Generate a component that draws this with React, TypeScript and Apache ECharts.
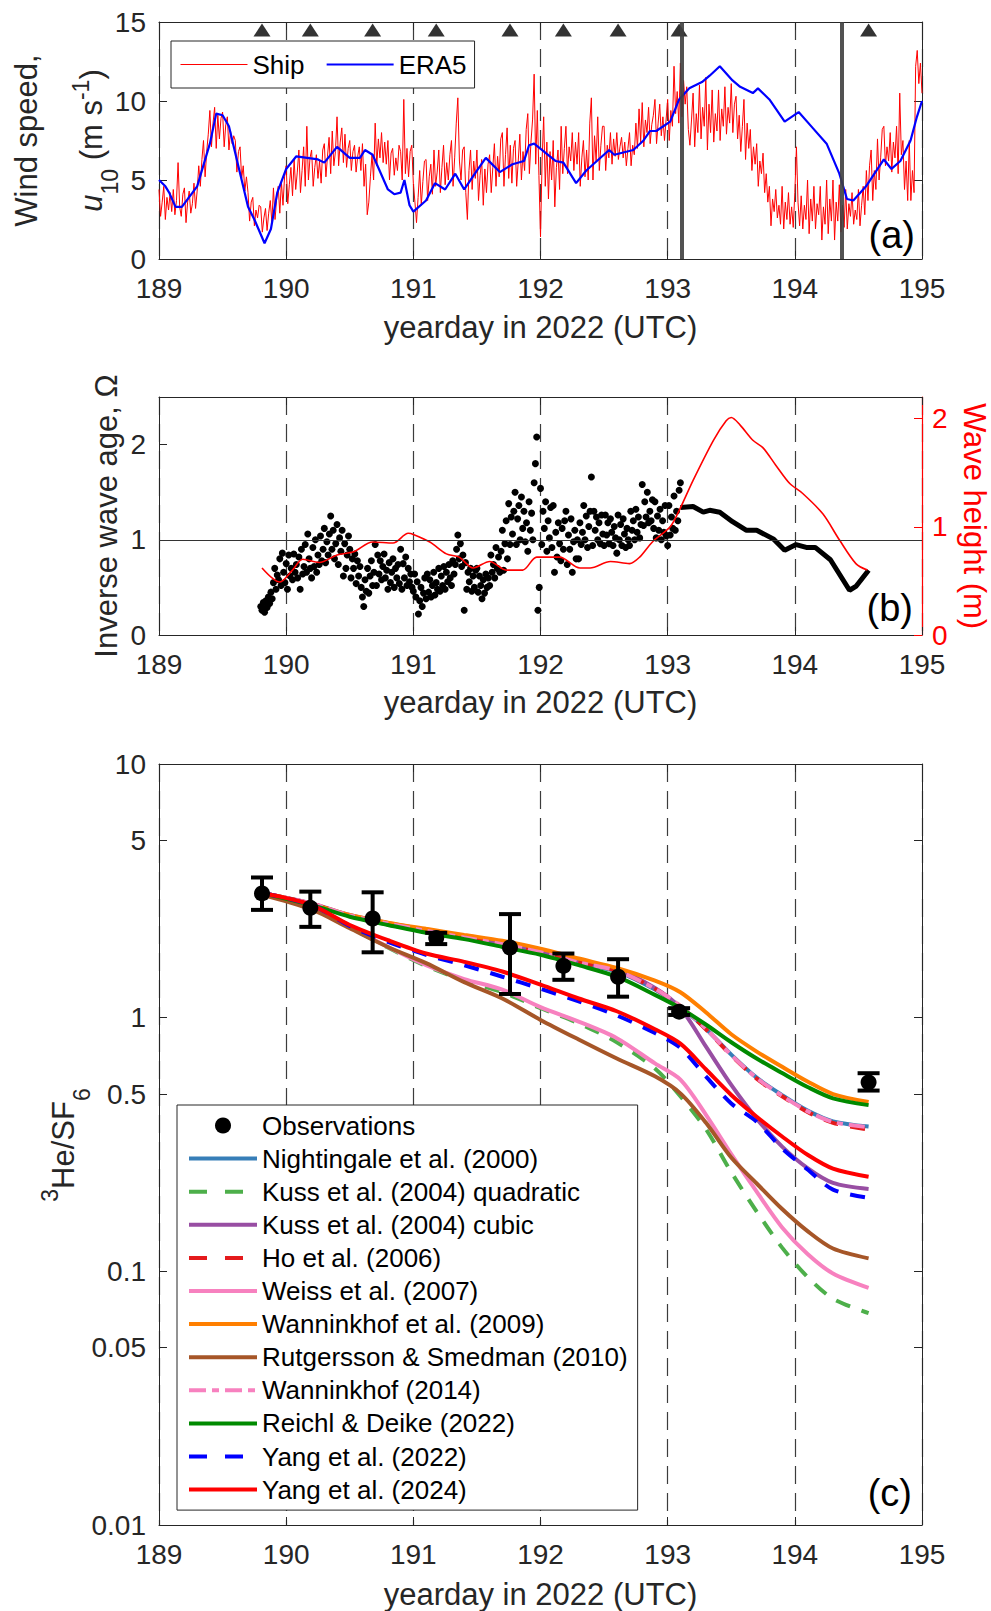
import React, { useEffect, useRef } from "react";
import * as echarts from "echarts";

const FONT = "Liberation Sans";
const AXIS = "#262626";

// ---------- Panel (a): wind speed ----------
const shipT0 = 189.0;
const shipDt = 0.0125;
const shipWind = [
  4.4, 2.7, 3.6, 4.6, 2.5, 3.9, 3.1, 4.2,
  3.0, 4.4, 2.8, 3.7, 6.1, 3.3, 2.7, 4.1,
  4.5, 2.3, 3.6, 4.3, 2.9, 3.5, 4.8, 3.2,
  4.3, 5.9, 4.6, 6.3, 7.5, 5.2, 6.8, 7.9,
  9.4, 7.1, 8.6, 9.6, 7.0, 9.1, 7.6, 8.9,
  9.3, 7.1, 8.5, 9.0, 6.9, 8.1, 7.3, 7.8,
  7.5, 5.5, 6.8, 7.1, 5.1, 5.9, 4.3, 5.2,
  4.2, 2.4, 3.6, 3.9, 2.1, 3.1, 2.6, 3.4,
  3.3, 1.7, 2.6, 3.2, 1.8, 2.9, 3.7, 2.3,
  4.5, 2.5, 3.8, 4.6, 2.9, 4.9, 3.4, 5.2,
  5.9, 3.5, 4.7, 5.8, 4.0, 6.3, 4.4, 5.5,
  6.9, 4.2, 5.6, 7.1, 4.6, 8.4, 5.0, 6.4,
  6.9, 4.6, 5.8, 6.6, 5.1, 6.2, 4.8, 6.9,
  7.3, 5.2, 6.5, 7.7, 5.4, 8.1, 5.9, 6.8,
  9.0, 5.9, 7.4, 8.3, 6.1, 7.9, 5.8, 7.0,
  7.5, 5.6, 6.8, 7.2, 5.5, 6.5, 7.1, 5.6,
  7.3, 4.6, 6.0, 2.8, 3.6, 5.2, 6.6, 5.0,
  8.6, 5.9, 7.6, 6.4, 8.0, 6.1, 7.4, 6.0,
  7.5, 5.0, 6.7, 7.0, 5.3, 6.4, 5.6, 7.2,
  6.8, 5.0, 10.1, 5.4, 7.0, 5.2, 6.8, 7.2,
  4.8, 3.6, 2.3, 3.9, 5.6, 3.4, 4.9, 6.2,
  6.3, 3.7, 5.2, 6.0, 4.1, 6.9, 4.6, 5.5,
  6.9, 4.2, 5.8, 7.2, 4.7, 6.1, 5.0, 6.6,
  7.5, 4.6, 6.4, 8.6, 10.2, 6.2, 5.0, 6.9,
  7.1, 4.2, 2.5, 5.6, 6.9, 4.4, 6.2, 5.1,
  6.9, 3.7, 5.3, 6.3, 3.4, 5.7, 4.2, 6.0,
  6.6, 4.2, 5.8, 7.3, 4.6, 6.5, 5.2, 7.6,
  8.0, 4.6, 6.6, 8.3, 5.1, 7.2, 4.8, 7.0,
  7.5, 4.6, 6.2, 7.9, 5.0, 6.8, 5.6, 8.2,
  9.2, 5.4, 7.4, 8.8, 11.7, 6.0, 9.4, 5.3,
  1.4, 6.2, 9.0, 4.6, 7.4, 3.8, 6.8, 5.0,
  7.5, 3.3, 5.8, 6.9, 4.4, 8.4, 5.4, 7.0,
  8.4, 5.4, 7.1, 6.2, 8.0, 5.6, 7.4, 6.0,
  8.0, 4.6, 6.4, 7.5, 5.2, 6.9, 5.0, 8.6,
  10.2, 5.0, 7.8, 6.2, 9.0, 5.6, 7.2, 8.4,
  8.4, 5.6, 7.2, 6.4, 8.0, 6.0, 7.6, 6.5,
  8.0, 6.3, 7.1, 7.7, 6.4, 7.4, 5.9, 7.0,
  8.0, 5.9, 7.2, 6.6, 8.6, 7.0, 9.5, 7.4,
  9.9, 7.1, 8.8, 8.0, 9.6, 7.3, 8.5, 9.1,
  10.1, 7.3, 8.6, 9.8, 7.8, 9.0, 7.5, 8.8,
  10.1, 7.5, 9.4, 8.4, 12.2, 9.2, 10.6, 8.6,
  12.4, 9.0, 11.3, 9.8, 10.9, 8.2, 7.2, 8.8,
  10.5, 7.1, 9.2, 8.0, 11.0, 7.6, 9.6, 8.4,
  11.5, 6.9, 9.8, 8.0, 10.7, 7.4, 9.2, 8.1,
  10.7, 7.5, 9.5, 8.4, 10.9, 7.9, 9.6, 8.6,
  11.1, 8.0, 9.8, 10.3, 7.6, 9.1, 6.8, 8.4,
  10.1, 6.3, 8.6, 7.0, 8.2, 5.6, 7.1, 6.0,
  7.3, 4.6, 6.2, 5.4, 6.7, 4.2, 5.4, 3.6,
  4.6, 2.1, 3.8, 3.0, 4.4, 2.6, 3.4, 2.2,
  4.6, 1.9, 3.6, 2.5, 4.2, 2.2, 3.3, 2.0,
  4.2, 7.1, 3.6, 2.1, 4.0, 1.9, 3.4, 2.5,
  5.0, 1.6, 3.8, 2.4, 4.6, 1.9, 3.5, 2.8,
  4.6, 1.2, 3.3, 2.2, 5.0, 1.6, 3.8, 2.4,
  5.0, 1.2, 3.6, 2.4, 4.7, 1.7, 3.4, 2.0,
  4.4, 1.9, 3.5, 2.7, 4.2, 2.2, 3.1, 2.5,
  4.4, 2.1, 3.4, 4.6, 2.8, 5.6, 3.7, 5.9,
  6.9, 3.7, 5.6, 4.4, 7.6, 5.0, 6.4, 8.2,
  8.4, 5.9, 7.1, 6.2, 8.0, 5.5, 7.4, 6.4,
  8.4, 5.4, 10.5, 6.6, 7.5, 4.4, 6.2, 3.7,
  7.5, 3.7, 5.6, 4.2, 12.2, 13.2, 11.1, 12.4,
  10.5,
];
const era5Wind: [number, number][] = [
  [189.0, 5.0], [189.05, 4.6], [189.08, 4.2], [189.13, 3.3], [189.18, 3.3], [189.3, 4.6],
  [189.4, 7.3], [189.45, 9.2], [189.5, 9.1], [189.55, 8.4], [189.6, 6.7], [189.7, 3.3],
  [189.75, 2.5], [189.83, 1.0], [189.88, 1.9], [189.93, 4.2], [190.0, 5.7], [190.08, 6.5],
  [190.25, 6.3], [190.3, 6.1], [190.4, 7.1], [190.5, 6.4], [190.58, 6.4], [190.62, 6.9],
  [190.68, 6.6], [190.8, 4.4], [190.85, 4.1], [190.9, 4.2], [190.93, 5.0], [190.97, 3.4],
  [191.0, 3.0], [191.1, 3.7], [191.17, 4.8], [191.25, 4.4], [191.33, 5.4], [191.4, 4.4],
  [191.5, 5.6], [191.57, 6.4], [191.68, 5.5], [191.78, 6.0], [191.87, 6.2], [191.91, 7.2],
  [191.95, 7.3], [192.12, 6.2], [192.18, 6.1], [192.28, 4.8], [192.36, 5.6], [192.54, 6.9],
  [192.58, 6.6], [192.73, 6.9], [192.81, 7.5], [192.86, 8.1], [192.91, 8.1], [193.02, 8.7],
  [193.09, 10.1], [193.17, 10.8], [193.27, 11.2], [193.33, 11.6], [193.41, 12.2], [193.51, 11.3],
  [193.57, 10.9], [193.67, 10.5], [193.71, 10.8], [193.8, 10.1], [193.92, 8.7], [194.03, 9.3],
  [194.14, 8.3], [194.25, 7.3], [194.35, 5.4], [194.41, 3.8], [194.46, 3.7], [194.56, 4.6],
  [194.7, 6.3], [194.76, 5.7], [194.83, 6.2], [194.91, 7.5], [194.96, 9.0], [195.0, 10.0],
];
const sampleDays = [189.81, 190.19, 190.68, 191.18, 191.76, 192.18, 192.61, 193.09, 194.58];
const triangleLevel = 14.5;
const periodBounds = [193.11, 194.37];

// ---------- Panel (b): inverse wave age and wave height ----------
const omegaT0 = 189.8;
const omegaDt = 0.01;
const omegaDots = [
  0.30, 0.26, 0.34, 0.24, 0.36, 0.29, 0.40, 0.33, 0.45, 0.38,
  0.55, 0.70, 0.48, 0.63, 0.58, 0.80, 0.52, 0.86, 0.66, 0.55,
  0.75, 0.48, 0.84, 0.62, 0.70, 0.58, 0.85, 0.66, 0.74, 0.60,
  0.82, 0.48, 0.90, 0.64, 0.72, 0.95, 0.66, 1.06, 0.80, 0.70,
  0.60, 0.92, 0.72, 1.00, 0.66, 0.84, 0.74, 1.04, 0.78, 0.90,
  1.12, 0.76, 0.98, 0.84, 1.06, 1.25, 0.90, 1.10, 0.80, 0.96,
  1.16, 0.74, 1.02, 0.88, 1.10, 0.62, 0.96, 0.70, 0.84, 1.04,
  0.90, 0.60, 0.80, 0.70, 0.85, 0.54, 0.78, 0.62, 0.72, 0.50,
  0.40, 0.30, 0.58, 0.46, 0.70, 0.44, 0.62, 0.78, 0.52, 0.66,
  0.95, 0.52, 0.84, 0.64, 0.78, 0.58, 0.72, 0.85, 0.60, 0.68,
  0.48, 0.76, 0.55, 0.66, 0.80, 0.50, 0.70, 0.60, 0.74, 0.54,
  0.90, 0.48, 0.75, 0.60, 0.82, 0.52, 0.70, 0.56, 0.64, 0.50,
  0.46, 0.64, 0.40, 0.56, 0.22, 0.36, 0.50, 0.30, 0.44, 0.60,
  0.38, 0.64, 0.45, 0.58, 0.40, 0.52, 0.66, 0.42, 0.55, 0.48,
  0.70, 0.46, 0.62, 0.52, 0.72, 0.48, 0.66, 0.56, 0.74, 0.60,
  0.52, 0.78, 0.64, 0.74, 0.90, 1.05, 0.80, 0.96, 0.72, 0.84,
  0.26, 0.76, 0.48, 0.66, 0.56, 0.70, 0.46, 0.62, 0.50, 0.68,
  0.70, 0.45, 0.62, 0.52, 0.38, 0.58, 0.44, 0.64, 0.50, 0.60,
  0.52, 0.84, 0.66, 0.74, 0.60, 0.92, 0.70, 0.82, 0.66, 0.88,
  1.10, 0.68, 0.96, 1.20, 0.80, 1.38, 0.95, 1.24, 1.06, 1.30,
  1.50, 0.95, 1.22, 1.36, 1.00, 1.45, 1.12, 1.30, 0.98, 1.18,
  0.88, 1.40, 1.10, 1.28, 1.00, 1.60, 1.80, 2.08, 0.26, 0.50,
  1.54, 0.95, 1.30, 1.12, 1.40, 0.88, 1.20, 1.02, 1.34, 0.92,
  1.36, 0.66, 1.08, 0.82, 1.18, 0.96, 0.78, 1.12, 0.90, 1.20,
  1.30, 0.74, 1.05, 0.90, 1.22, 0.66, 0.98, 1.10, 0.80, 1.00,
  0.80, 1.18, 0.95, 1.08, 1.36, 1.00, 1.25, 0.92, 1.14, 1.30,
  1.66, 0.94, 1.30, 1.10, 1.24, 1.00, 1.18, 0.96, 1.26, 1.06,
  0.94, 1.26, 1.05, 1.18, 0.96, 1.22, 1.08, 0.94, 1.14, 1.02,
  0.86, 1.26, 1.00, 1.16, 0.94, 1.22, 1.06, 0.92, 1.12, 1.00,
  0.94, 1.30, 1.10, 1.20, 1.00, 1.32, 1.08, 1.24, 1.02, 1.16,
  1.58, 1.15, 1.40, 1.24, 1.50, 1.18, 1.30, 1.20, 1.42, 1.12,
  1.40, 1.02, 1.25, 1.10, 1.32, 1.00, 1.20, 1.08, 1.36, 1.04,
  0.94, 1.36, 1.05, 1.24, 1.12, 1.46, 1.10, 1.30, 1.20, 1.52,
  1.60,
];
const omegaLine: [number, number][] = [
  [193.1, 1.34], [193.2, 1.35], [193.28, 1.29], [193.33, 1.31], [193.41, 1.29], [193.51, 1.19],
  [193.62, 1.1], [193.7, 1.1], [193.83, 1.01], [193.92, 0.89], [194.01, 0.95], [194.09, 0.92],
  [194.16, 0.92], [194.28, 0.79], [194.43, 0.47], [194.48, 0.51], [194.58, 0.68],
];
const waveHeight: [number, number][] = [
  [189.81, 0.62], [189.95, 0.49], [190.05, 0.6], [190.13, 0.7], [190.26, 0.67], [190.4, 0.74],
  [190.53, 0.77], [190.68, 0.86], [190.84, 0.85], [190.96, 0.94], [191.0, 0.93], [191.13, 0.86],
  [191.26, 0.75], [191.36, 0.72], [191.47, 0.62], [191.6, 0.68], [191.73, 0.6], [191.86, 0.6],
  [191.97, 0.72], [192.15, 0.72], [192.31, 0.62], [192.39, 0.62], [192.55, 0.68], [192.7, 0.66],
  [192.78, 0.72], [192.88, 0.86], [193.02, 1.0], [193.09, 1.15], [193.2, 1.43], [193.36, 1.8],
  [193.46, 1.98], [193.5, 2.01], [193.57, 1.94], [193.67, 1.8], [193.75, 1.73], [193.85, 1.57],
  [193.96, 1.4], [194.06, 1.31], [194.22, 1.12], [194.35, 0.88], [194.48, 0.66], [194.57, 0.6],
];

// ---------- Panel (c): 3He/SF6 ratio ----------
const modelDays = [189.81, 190.2, 190.5, 190.8, 191.1, 191.4, 191.7, 192.0, 192.3, 192.6,
  192.9, 193.1, 193.3, 193.5, 193.7, 193.9, 194.1, 194.3, 194.58];
const nightingale2000 = [3.1, 2.81, 2.52, 2.33, 2.19, 2.06, 1.94, 1.8, 1.64, 1.52, 1.29, 1.1, 0.905, 0.715, 0.58, 0.495, 0.43, 0.39, 0.372];
const kussQuad2004 = [3.1, 2.74, 2.27, 1.89, 1.6, 1.4, 1.26, 1.09, 0.95, 0.8, 0.63, 0.49, 0.364, 0.246, 0.172, 0.124, 0.095, 0.078, 0.0684];
const kussCubic2004 = [3.1, 2.82, 2.54, 2.36, 2.22, 2.09, 1.97, 1.83, 1.67, 1.55, 1.31, 1.09, 0.77, 0.543, 0.4, 0.31, 0.255, 0.223, 0.211];
const ho2006 = [3.1, 2.81, 2.52, 2.34, 2.2, 2.07, 1.95, 1.81, 1.65, 1.53, 1.3, 1.11, 0.9, 0.71, 0.575, 0.49, 0.425, 0.385, 0.362];
const weiss2007 = [3.1, 2.74, 2.28, 1.9, 1.61, 1.42, 1.29, 1.1, 0.965, 0.83, 0.66, 0.57, 0.415, 0.29, 0.206, 0.149, 0.117, 0.098, 0.086];
const wanninkhof2009 = [3.1, 2.81, 2.54, 2.37, 2.24, 2.12, 2.01, 1.87, 1.71, 1.57, 1.4, 1.26, 1.05, 0.86, 0.735, 0.64, 0.56, 0.5, 0.465];
const rutgersson2010 = [3.05, 2.67, 2.25, 1.9, 1.64, 1.38, 1.19, 0.98, 0.82, 0.69, 0.587, 0.503, 0.386, 0.281, 0.222, 0.176, 0.144, 0.123, 0.1125];
const wanninkhof2014 = [3.1, 2.82, 2.53, 2.35, 2.2, 2.07, 1.95, 1.81, 1.65, 1.53, 1.3, 1.11, 0.905, 0.712, 0.578, 0.492, 0.428, 0.388, 0.37];
const reichlDeike2022 = [3.1, 2.78, 2.5, 2.32, 2.16, 2.04, 1.9, 1.77, 1.61, 1.45, 1.23, 1.09, 0.94, 0.8, 0.69, 0.605, 0.533, 0.481, 0.452];
const yang2022 = [3.1, 2.78, 2.3, 1.99, 1.77, 1.61, 1.45, 1.3, 1.16, 1.02, 0.87, 0.76, 0.587, 0.459, 0.389, 0.305, 0.252, 0.21, 0.195];
const yang2024 = [3.1, 2.78, 2.32, 2.02, 1.79, 1.66, 1.52, 1.35, 1.19, 1.06, 0.9, 0.79, 0.626, 0.496, 0.407, 0.34, 0.288, 0.254, 0.236];
const obsRatio = [3.09, 2.71, 2.46, 2.06, 1.89, 1.6, 1.45, 1.056, 0.556];
const obsLow = [2.66, 2.28, 1.81, 1.95, 1.24, 1.41, 1.21, 1.025, 0.516];
const obsHigh = [3.57, 3.14, 3.12, 2.16, 2.56, 1.79, 1.7, 1.09, 0.604];
const yTicksC = [0.01, 0.05, 0.1, 0.5, 1, 5, 10];

const models = [
  { name: "Nightingale et al. (2000)", values: nightingale2000, color: "#377eb8", type: "solid" as any, legendType: "solid" as any },
  { name: "Kuss et al. (2004) quadratic", values: kussQuad2004, color: "#4daf4a", type: [15, 12], legendType: [18, 18] },
  { name: "Kuss et al. (2004) cubic", values: kussCubic2004, color: "#984ea3", type: "solid", legendType: "solid" },
  { name: "Ho et al. (2006)", values: ho2006, color: "#e41a1c", type: [15, 12], legendType: [18, 18] },
  { name: "Weiss et al. (2007)", values: weiss2007, color: "#f781bf", type: "solid", legendType: "solid" },
  { name: "Wanninkhof et al. (2009)", values: wanninkhof2009, color: "#ff7f00", type: "solid", legendType: "solid" },
  { name: "Rutgersson & Smedman (2010)", values: rutgersson2010, color: "#a65628", type: "solid", legendType: "solid" },
  { name: "Wanninkhof (2014)", values: wanninkhof2014, color: "#f781bf", type: [16, 6, 6, 6], legendType: [17, 6, 7, 6] },
  { name: "Reichl & Deike (2022)", values: reichlDeike2022, color: "#008a00", type: "solid", legendType: "solid" },
  { name: "Yang et al. (2022)", values: yang2022, color: "#0000ff", type: [15, 12], legendType: [18, 18] },
  { name: "Yang et al. (2024)", values: yang2024, color: "#ff0000", type: "solid", legendType: "solid" },
];

const tickLabel = { color: AXIS, fontSize: 28, fontFamily: FONT };
const axisLineStyle = { show: true, onZero: false, lineStyle: { color: AXIS, width: 1 } };
const axisTickStyle = { show: true, inside: true, length: 8, lineStyle: { color: AXIS, width: 1 } };

function xBottom(grid: number) {
  return {
    type: "value", gridIndex: grid, position: "bottom", min: 189, max: 195, interval: 1,
    axisLine: axisLineStyle, axisTick: axisTickStyle,
    axisLabel: { ...tickLabel, margin: 15 },
    splitLine: { show: true, lineStyle: { color: "#3c3c3c", width: 1.2, type: [18, 9] } },
  };
}
function xTop(grid: number) {
  return {
    type: "value", gridIndex: grid, position: "top", min: 189, max: 195, interval: 1,
    axisLine: axisLineStyle, axisTick: axisTickStyle, axisLabel: { show: false }, splitLine: { show: false },
  };
}

function buildOption() {
  const logTicks = yTicksC.map((t) => Math.log10(t));
  const fmtLog = (v: number) => {
    const t = yTicksC.find((k) => Math.abs(Math.log10(k) - v) < 1e-6);
    return t === undefined ? "" : String(t);
  };
  const series: any[] = [
    {
      name: "Ship", type: "line", xAxisIndex: 0, yAxisIndex: 0, symbol: "none",
      data: shipWind.map((v, i) => [shipT0 + i * shipDt, v]),
      lineStyle: { color: "#ff0000", width: 1 }, itemStyle: { color: "#ff0000" },
      markLine: {
        silent: true, symbol: ["none", "none"], label: { show: false },
        lineStyle: { color: "#3f3f3f", width: 4, type: "solid", opacity: 0.9 },
        data: periodBounds.map((x) => ({ xAxis: x })),
      },
    },
    {
      name: "ERA5", type: "line", xAxisIndex: 0, yAxisIndex: 0, symbol: "none", data: era5Wind,
      lineStyle: { color: "#0000ff", width: 2.2 }, itemStyle: { color: "#0000ff" },
    },
    {
      name: "samples", type: "scatter", xAxisIndex: 0, yAxisIndex: 0, symbol: "triangle",
      symbolSize: [17, 13], itemStyle: { color: "#000" },
      data: sampleDays.map((d) => [d, triangleLevel]),
    },
    {
      name: "Omega", type: "scatter", xAxisIndex: 2, yAxisIndex: 2, symbolSize: 7,
      itemStyle: { color: "#000", opacity: 1 },
      data: omegaDots.map((v, i) => [omegaT0 + i * omegaDt, v]),
      markLine: {
        silent: true, symbol: ["none", "none"], label: { show: false },
        lineStyle: { color: "#333", width: 1, type: "solid" }, data: [{ yAxis: 1 }],
      },
    },
    {
      name: "OmegaModel", type: "line", xAxisIndex: 2, yAxisIndex: 2, symbol: "none", data: omegaLine,
      lineStyle: { color: "#000", width: 5 },
    },
    {
      name: "Wave height", type: "line", xAxisIndex: 2, yAxisIndex: 3, symbol: "none", data: waveHeight,
      smooth: 0.3, lineStyle: { color: "#ff0000", width: 1.6 },
    },
  ];
  models.forEach((m) => {
    series.push({
      name: m.name, type: "line", xAxisIndex: 4, yAxisIndex: 4, symbol: "none", smooth: 0.3,
      data: modelDays.map((d, i) => [d, Math.log10(m.values[i])]),
      lineStyle: { color: m.color, width: 4, type: m.type }, itemStyle: { color: m.color },
    });
  });
  series.push({
    name: "errorbars", type: "custom", xAxisIndex: 4, yAxisIndex: 4, z: 5,
    encode: { x: 0, y: [1, 2] },
    data: sampleDays.map((d, i) => [d, Math.log10(obsLow[i]), Math.log10(obsHigh[i])]),
    renderItem: (params: any, api: any) => {
      const pLo = api.coord([api.value(0), api.value(1)]);
      const pHi = api.coord([api.value(0), api.value(2)]);
      const w = 11;
      const st = { stroke: "#000", lineWidth: 4 };
      return {
        type: "group",
        children: [
          { type: "line", shape: { x1: pLo[0], y1: pLo[1], x2: pHi[0], y2: pHi[1] }, style: st },
          { type: "line", shape: { x1: pLo[0] - w, y1: pLo[1], x2: pLo[0] + w, y2: pLo[1] }, style: st },
          { type: "line", shape: { x1: pHi[0] - w, y1: pHi[1], x2: pHi[0] + w, y2: pHi[1] }, style: st },
        ],
      };
    },
  });
  series.push({
    name: "Observations", type: "scatter", xAxisIndex: 4, yAxisIndex: 4, symbol: "circle", symbolSize: 16, z: 6,
    itemStyle: { color: "#000", opacity: 1 },
    data: sampleDays.map((d, i) => [d, Math.log10(obsRatio[i])]),
  });

  const legendText = { fontSize: 26, color: "#000", fontFamily: FONT, lineHeight: 33 };
  const lineItem = (name: string, width: number, type: any) => ({
    name, itemStyle: { opacity: 0 }, lineStyle: { width, type, opacity: 1 },
  });

  const txt = (text: string, x: number, y: number, opts: any = {}) => ({
    type: "text", x, y, z: 50, rotation: opts.rotation || 0,
    style: {
      text, fontSize: opts.fontSize || 31, fontFamily: FONT, fill: opts.fill || AXIS,
      align: opts.align || "center", verticalAlign: "middle",
    },
  });

  const richBase = { fontSize: 31, fontFamily: FONT, lineHeight: 31, padding: [12, 0, 0, 0], verticalAlign: "top", fill: AXIS };

  return {
    animation: false,
    textStyle: { fontFamily: FONT },
    grid: [
      { left: 159, top: 22, width: 763, height: 237 },
      { left: 159, top: 397, width: 763, height: 238 },
      { left: 159, top: 764, width: 763, height: 761 },
    ],
    xAxis: [xBottom(0), xTop(0), xBottom(1), xTop(1), xBottom(2), xTop(2)],
    yAxis: [
      {
        type: "value", gridIndex: 0, min: 0, max: 15, interval: 5, axisLine: axisLineStyle, axisTick: axisTickStyle,
        axisLabel: { ...tickLabel, margin: 13 }, splitLine: { show: false },
      },
      {
        type: "value", gridIndex: 0, position: "right", min: 0, max: 15, interval: 5, axisLine: axisLineStyle,
        axisTick: axisTickStyle, axisLabel: { show: false }, splitLine: { show: false },
      },
      {
        type: "value", gridIndex: 1, min: 0, max: 2.5, interval: 1, axisLine: axisLineStyle, axisTick: axisTickStyle,
        axisLabel: { ...tickLabel, margin: 13, showMaxLabel: false }, splitLine: { show: false },
      },
      {
        type: "value", gridIndex: 1, position: "right", min: 0, max: 2.2, interval: 1,
        axisLine: { show: true, onZero: false, lineStyle: { color: "#ff0000", width: 1.2 } },
        axisTick: { show: true, inside: true, length: 8, lineStyle: { color: "#ff0000" } },
        axisLabel: { ...tickLabel, color: "#ff0000", margin: 10, showMaxLabel: false }, splitLine: { show: false },
      },
      {
        type: "value", gridIndex: 2, min: -2, max: 1, axisLine: axisLineStyle,
        axisTick: { ...axisTickStyle, customValues: logTicks },
        axisLabel: { ...tickLabel, margin: 13, customValues: logTicks, formatter: fmtLog }, splitLine: { show: false },
      },
      {
        type: "value", gridIndex: 2, position: "right", min: -2, max: 1, axisLine: axisLineStyle,
        axisTick: { ...axisTickStyle, customValues: logTicks }, axisLabel: { show: false }, splitLine: { show: false },
      },
    ],
    legend: [
      {
        data: [lineItem("Ship", 1, "solid"), lineItem("ERA5", 2.2, "solid")], orient: "horizontal",
        left: 171, top: 41, padding: [7, 8, 7, 9],
        itemWidth: 67, itemHeight: 14, itemGap: 21, selectedMode: false, textStyle: legendText,
        backgroundColor: "#fff", borderColor: AXIS, borderWidth: 1,
      },
      {
        data: [{ name: "Observations" }, ...models.map((m) => lineItem(m.name, 4, m.legendType))],
        orient: "vertical", left: 177, top: 1105,
        padding: [4, 10, 4, 10], itemWidth: 68, itemHeight: 16, itemGap: 0.1, selectedMode: false,
        textStyle: legendText, backgroundColor: "#fff", borderColor: AXIS, borderWidth: 1,
      },
    ],
    series,
    graphic: [
      txt("yearday in 2022 (UTC)", 540.5, 327),
      txt("yearday in 2022 (UTC)", 540.5, 702.5),
      txt("yearday in 2022 (UTC)", 540.5, 1594),
      txt("Wind speed,", 26, 140.5, { rotation: Math.PI / 2 }),
      {
        type: "text", x: 79, y: 140.5, rotation: Math.PI / 2, z: 50,
        style: {
          text: "{i|u}{sub|10}{n| (m s}{sup|-1}{n|)}", align: "center", verticalAlign: "middle",
          rich: {
            n: richBase,
            i: { ...richBase, fontStyle: "italic" },
            sub: { fontSize: 23, fontFamily: FONT, lineHeight: 23, padding: [35, 0, 0, 0], verticalAlign: "top", fill: AXIS },
            sup: { fontSize: 23, fontFamily: FONT, lineHeight: 23, padding: [6, 0, 0, 0], verticalAlign: "top", fill: AXIS },
          },
        },
      },
      txt("Inverse wave age, Ω", 106, 516, { rotation: Math.PI / 2 }),
      txt("Wave height (m)", 974, 516, { rotation: -Math.PI / 2, fill: "#ff0000" }),
      {
        type: "text", x: 51, y: 1145, rotation: Math.PI / 2, z: 50,
        style: {
          text: "{sup|3}{n|He/SF}{sub|6}", align: "center", verticalAlign: "middle",
          rich: {
            n: richBase,
            sup: { fontSize: 23, fontFamily: FONT, lineHeight: 23, padding: [3, 0, 0, 0], verticalAlign: "top", fill: AXIS },
            sub: { fontSize: 23, fontFamily: FONT, lineHeight: 23, padding: [35, 0, 0, 0], verticalAlign: "top", fill: AXIS },
          },
        },
      },
      txt("(a)", 915, 235, { fontSize: 38, align: "right", fill: "#000" }),
      txt("(b)", 913, 608, { fontSize: 38, align: "right", fill: "#000" }),
      txt("(c)", 912, 1493, { fontSize: 38, align: "right", fill: "#000" }),
    ],
  };
}

export default function App() {
  const ref = useRef<HTMLDivElement>(null);
  useEffect(() => {
    document.body.style.margin = "0";
    const chart = echarts.init(ref.current!, null, { renderer: "svg" });
    chart.setOption(buildOption() as any);
    return () => chart.dispose();
  }, []);
  return <div ref={ref} style={{ width: 991, height: 1611 }} />;
}
